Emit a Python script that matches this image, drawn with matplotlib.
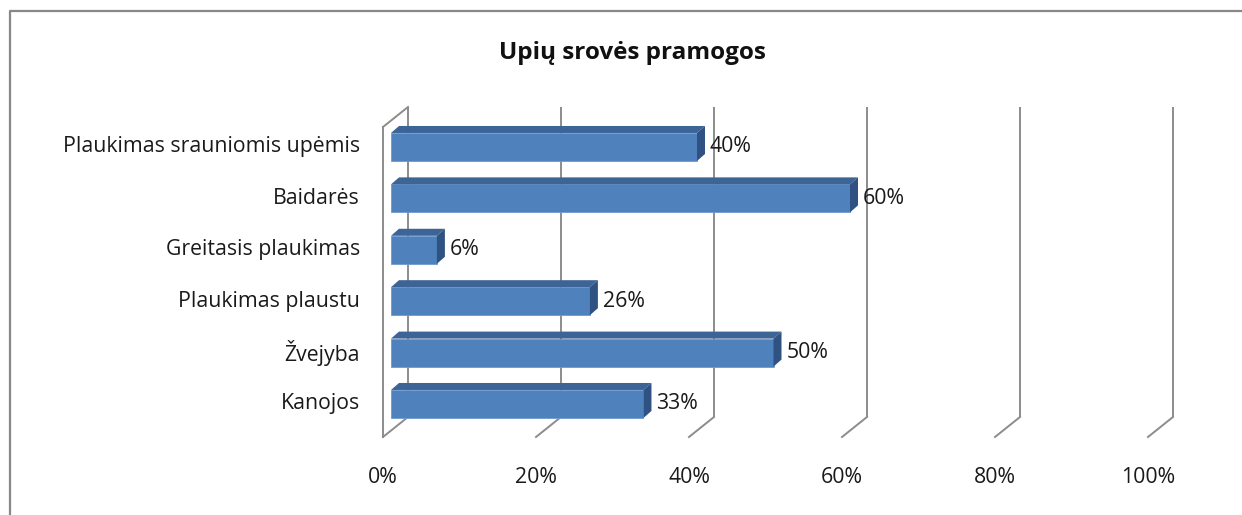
import matplotlib
matplotlib.use("Agg")
import matplotlib.pyplot as plt
from matplotlib.patches import Polygon
from matplotlib.lines import Line2D

categories = ["Kanojos", "Žvejyba", "Plaukimas plaustu", "Greitasis plaukimas",
              "Baidarės", "Plaukimas srauniomis upėmis"]
values = [33, 50, 26, 6, 60, 40]
ticks = [0, 20, 40, 60, 80, 100]
tick_labels = ["0%", "20%", "40%", "60%", "80%", "100%"]
title = "Upių srovės pramogos"

W, H = 1242, 515
plt.rcParams["font.family"] = ["Open Sans", "DejaVu Sans"]
fig = plt.figure(figsize=(W / 100, H / 100), dpi=100)

# axes placed so the front plane 0..100 % maps to px 391..1156
x0_px, x1_px = 391, 1156
y_top_px, y_bot_px = 100, 445
ax = fig.add_axes([x0_px / W, 1 - y_bot_px / H,
                   (x1_px - x0_px) / W, (y_bot_px - y_top_px) / H])
ax.set_xlim(0, 100)
ax.set_ylim(-0.798, 5.914)
ax.axis("off")

px_x = 100 / (x1_px - x0_px)      # percent per pixel
px_y = 6.712 / (y_bot_px - y_top_px)  # category units per pixel

front = "#4f81bd"
top_c = "#3c6496"
side_c = "#2f5282"
grid_c = "#8c8c8c"
txt_c = "#1a1a1a"
fs = 15.3

# back wall grid + floor diagonals
wb_dx, wf_dx = 17 * px_x, -8 * px_x
back_lo, back_hi = -0.253, 5.778
front_lo, front_hi = -0.642, 5.389
for t in ticks:
    ax.plot([t + wb_dx, t + wb_dx], [back_lo, back_hi], color=grid_c, lw=1.4,
            clip_on=False, solid_capstyle="butt")
    ax.plot([t + wf_dx, t + wb_dx], [front_lo, back_lo], color=grid_c, lw=1.4,
            clip_on=False)
# left side wall outline
ax.plot([wf_dx, wf_dx], [front_lo, front_hi], color=grid_c, lw=1.4, clip_on=False)
ax.plot([wf_dx, wb_dx], [front_hi, back_hi], color=grid_c, lw=1.4, clip_on=False)

# bars
h = 28 * px_y
bdx, bdy = 8 * px_x, 7 * px_y
ys = list(range(len(categories)))
ax.barh(ys, values, height=h, color=front, edgecolor="#6f9ad0", lw=0.6, zorder=3)
for y, v in zip(ys, values):
    top = [(0, y + h / 2), (v, y + h / 2), (v + bdx, y + h / 2 + bdy), (bdx, y + h / 2 + bdy)]
    side = [(v, y - h / 2), (v + bdx, y - h / 2 + bdy), (v + bdx, y + h / 2 + bdy), (v, y + h / 2)]
    ax.add_patch(Polygon(top, closed=True, fc=top_c, ec="none", zorder=3))
    ax.add_patch(Polygon(side, closed=True, fc=side_c, ec="none", zorder=3))
    ax.text(v + bdx + 5 * px_x, y, f"{v}%", ha="left", va="center",
            fontsize=fs, color=txt_c, zorder=4)
    ax.text(-31 * px_x, y, categories[y], ha="right", va="center",
            fontsize=fs, color=txt_c)

for t, lab in zip(ticks, tick_labels):
    ax.text(t + wf_dx, -1.44, lab, ha="center", va="center",
            fontsize=fs, color=txt_c)

fig.text(632 / W, 1 - 53 / H, title, ha="center", va="center",
         fontsize=17.5, fontweight="bold", color="#111111")

# outer chart border (top and left visible)
fig.add_artist(Line2D([10 / W, 10 / W, 1], [0, 1 - 11 / H, 1 - 11 / H],
                      transform=fig.transFigure, color="#888888", lw=1.6))

fig.savefig("out.png", dpi=100)
